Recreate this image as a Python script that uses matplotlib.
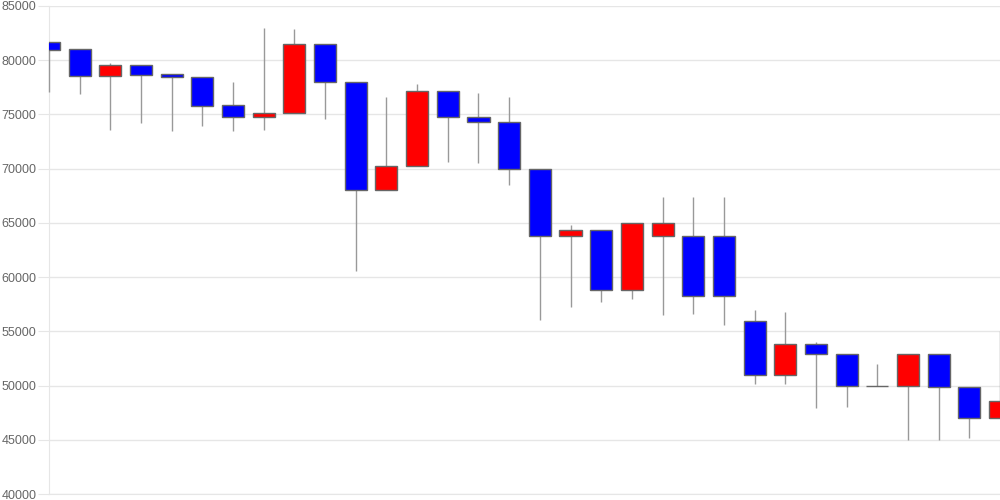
import matplotlib.pyplot as plt

# daily candles (open, high, low, close)
opens = [81650, 81000, 78500, 79600, 78700, 78450, 75850, 74800, 75100, 81450,
         78000, 68000, 70200, 77150, 74750, 74300, 70000, 63800, 64350, 58850,
         63750, 63750, 63750, 55950, 51000, 53850, 52950, 50000, 50000, 52950,
         49850, 47000]
highs = [81650, 81000, 79750, 79600, 78700, 78450, 77950, 82950, 82900, 81450,
         78000, 76650, 77800, 77150, 76950, 76650, 70000, 64800, 64350, 65000,
         67400, 67400, 67400, 57000, 56800, 54000, 52950, 51950, 52950, 52950,
         49850, 55000]
lows = [77100, 76900, 73550, 74250, 73500, 73950, 73500, 73550, 75100, 74550,
        60550, 68000, 70200, 70600, 70500, 68500, 56050, 57200, 57750, 58000,
        56550, 56600, 55600, 50150, 50150, 47950, 48000, 50000, 45000, 45000,
        45150, 47000]
closes = [80950, 78500, 79600, 78650, 78450, 75800, 74800, 75100, 81450, 78000,
          68000, 70200, 77150, 74750, 74300, 70000, 63800, 64350, 58850, 65000,
          65000, 58300, 58300, 51000, 53850, 52950, 50000, 50000, 52950, 49850,
          47000, 48550]
yticks = [40000, 45000, 50000, 55000, 60000, 65000, 70000, 75000, 80000, 85000]

x = list(range(len(opens)))
fig = plt.figure(figsize=(10, 5), dpi=100)
ax = fig.add_axes([0.049, 0.012, 0.951, 0.976])

# wicks first so the bodies sit on top (not clipped, the edge ones sit on the border)
ax.vlines(x, lows, highs, color='#999999', linewidth=1, zorder=4 - 2, clip_on=False)

colors = []
bottoms = []
heights = []
for o, c in zip(opens, closes):
    colors.append('red' if c > o else 'blue')
    bottoms.append(min(o, c))
    heights.append(abs(c - o))
ax.bar(x, heights, bottom=bottoms, width=0.72, color=colors,
       edgecolor='#666666', linewidth=1, zorder=3)

ax.set_xlim(0, len(opens) - 1)
ax.set_ylim(40000, 85000)
ax.set_yticks(yticks)
ax.set_yticklabels([str(v) for v in yticks], fontfamily='Liberation Sans',
                   fontsize=9, color='#666666')
ax.set_xticks([])
ax.tick_params(axis='y', length=8, color='#e6e6e6', pad=1)
ax.grid(axis='y', color='#e6e6e6', linewidth=1, zorder=0)
ax.set_axisbelow(True)
for side in ['top', 'right']:
    ax.spines[side].set_visible(False)
ax.spines['left'].set_color('#e6e6e6')
ax.spines['left'].set_zorder(1)
ax.spines['bottom'].set_color('#e6e6e6')

plt.savefig('out.png', dpi=100)
